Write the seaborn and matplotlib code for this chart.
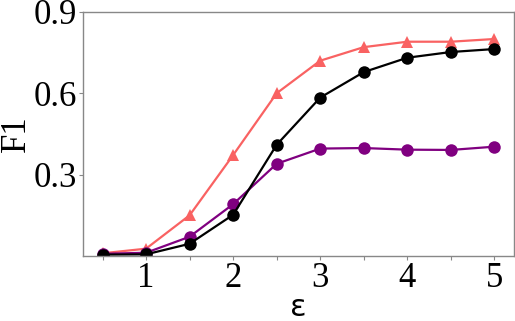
import matplotlib
matplotlib.use("Agg")
import matplotlib.pyplot as plt
import seaborn as sns
import pandas as pd

eps = [0.5, 1.0, 1.5, 2.0, 2.5, 3.0, 3.5, 4.0, 4.5, 5.0]
red_vals = [0.010, 0.027, 0.150, 0.372, 0.600, 0.720, 0.770, 0.790, 0.790, 0.800]
black_vals = [0.005, 0.006, 0.045, 0.152, 0.410, 0.584, 0.678, 0.731, 0.752, 0.763]
purple_vals = [0.008, 0.012, 0.071, 0.191, 0.340, 0.396, 0.398, 0.392, 0.391, 0.403]

sns.set_theme(style="white")
plt.rcParams['font.family'] = ['Liberation Serif', 'DejaVu Serif']

fig = plt.figure(figsize=(5.15, 3.21), dpi=100)
ax = fig.add_axes([0.161, 0.2025, 0.837, 0.7605])

series = [
    (red_vals, "#f96262", "^"),
    (purple_vals, "#800080", "o"),
    (black_vals, "#000000", "o"),
]
for vals, col, mk in series:
    df = pd.DataFrame({"eps": eps, "f1": vals})
    sns.lineplot(data=df, x="eps", y="f1", ax=ax, color=col, marker=mk,
                 markersize=9, markeredgewidth=0, linewidth=1.6)

ax.set_ylim(0.0, 0.9)
ax.set_xlim(0.275, 5.225)
ax.set_xticks([0.5, 1, 1.5, 2, 2.5, 3, 3.5, 4, 4.5, 5])
ax.set_xticklabels(["", "1", "", "2", "", "3", "", "4", "", "5"])
ax.set_yticks([0.3, 0.6, 0.9])
ax.set_yticklabels(["0.3", "0.6", "0.9"])
ax.tick_params(axis='both', which='major', labelsize=25, length=3, width=0.8,
               color='#888888', labelcolor='black', bottom=True, left=True, pad=1)
for sp in ax.spines.values():
    sp.set_color('#888888')
    sp.set_linewidth(1.0)
ax.set_xlabel("ε", fontsize=22, labelpad=-1, color='black', family=['DejaVu Sans'])
ax.set_ylabel("F1", fontsize=25, labelpad=1, color='black')

fig.savefig("out.png", dpi=100)
